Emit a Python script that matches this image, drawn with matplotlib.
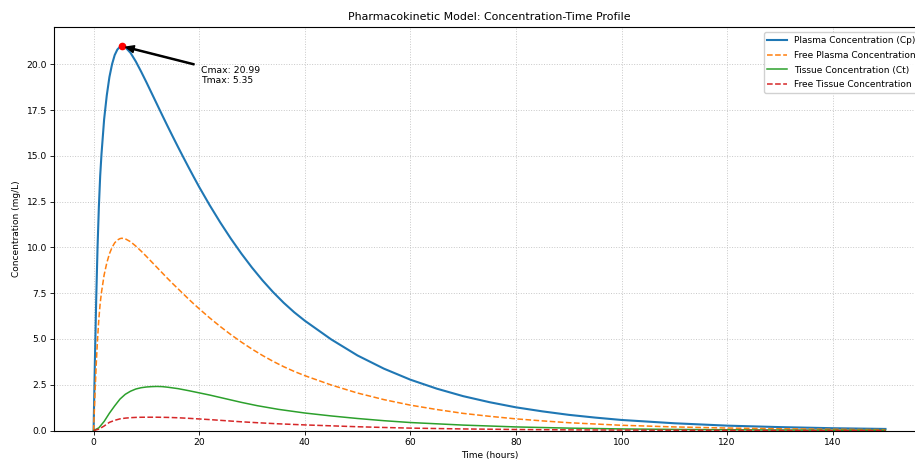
import numpy as np
import matplotlib
matplotlib.use("Agg")
import matplotlib.pyplot as plt

# Values (hours, mg/L)
time_p = [0, 0.25, 0.5, 0.75, 1, 1.25, 1.5, 2, 2.5, 3, 3.5, 4, 4.5, 5, 5.35, 6, 7, 8, 9, 10,
          11, 12, 13, 14, 15, 16, 17, 18, 19, 20, 22, 24, 26, 28, 30, 32, 34, 36, 38, 40,
          45, 50, 55, 60, 65, 70, 75, 80, 85, 90, 95, 100, 110, 120, 130, 140, 150]

plasma = [0, 3.8, 7.2, 10.0, 12.2, 13.9, 15.1, 17.0, 18.3, 19.3, 20.0, 20.5, 20.8, 20.95, 20.99,
          20.93, 20.62, 20.15, 19.6, 19.02, 18.42, 17.82, 17.22, 16.63, 16.05, 15.48, 14.92,
          14.37, 13.83, 13.3, 12.3, 11.36, 10.48, 9.66, 8.9, 8.2, 7.56, 6.98, 6.46, 6.0,
          4.98, 4.1, 3.38, 2.78, 2.29, 1.88, 1.55, 1.27, 1.05, 0.86, 0.71, 0.58,
          0.4, 0.27, 0.19, 0.13, 0.09]

free_plasma = [0, 1.9, 3.6, 5.0, 6.1, 6.95, 7.55, 8.5, 9.15, 9.65, 10.0, 10.25, 10.4, 10.48, 10.5,
               10.47, 10.31, 10.07, 9.8, 9.51, 9.21, 8.91, 8.61, 8.31, 8.02, 7.74, 7.46, 7.18,
               6.91, 6.65, 6.15, 5.68, 5.24, 4.83, 4.45, 4.1, 3.78, 3.49, 3.23, 3.0,
               2.49, 2.05, 1.69, 1.39, 1.15, 0.94, 0.78, 0.64, 0.53, 0.43, 0.36, 0.29,
               0.2, 0.14, 0.1, 0.07, 0.05]

time_t = [0, 1, 2, 3, 4, 5, 6, 7, 8, 9, 10, 11, 12, 13, 14, 16, 18, 20, 22, 25, 28, 31, 35,
          40, 45, 50, 55, 60, 70, 80, 90, 100, 110, 120, 130, 140, 150]

tissue = [0, 0.15, 0.5, 0.95, 1.35, 1.72, 1.98, 2.15, 2.27, 2.34, 2.38, 2.4, 2.41, 2.4, 2.37,
          2.29, 2.18, 2.06, 1.94, 1.74, 1.54, 1.36, 1.16, 0.96, 0.8, 0.66, 0.54, 0.44,
          0.3, 0.2, 0.135, 0.09, 0.065, 0.045, 0.03, 0.02, 0.015]

free_tissue = [0, 0.08, 0.25, 0.45, 0.56, 0.64, 0.68, 0.705, 0.72, 0.728, 0.73, 0.73, 0.73,
               0.725, 0.72, 0.7, 0.67, 0.635, 0.6, 0.54, 0.48, 0.43, 0.37, 0.31, 0.26, 0.21,
               0.17, 0.135, 0.09, 0.06, 0.04, 0.028, 0.02, 0.014, 0.01, 0.007, 0.005]

cmax = 20.99
tmax = 5.35

fig = plt.figure(figsize=(9.15, 4.63), dpi=100)
# reference is cropped on the right, so the axes run past the figure edge
ax = fig.add_axes([0.059, 0.07, 0.952, 0.872])

ax.plot(time_p, plasma, color="#1f77b4", lw=1.5, label="Plasma Concentration (Cp)")
ax.plot(time_p, free_plasma, color="#ff7f0e", lw=1.1, ls="--", label="Free Plasma Concentration")
ax.plot(time_t, tissue, color="#2ca02c", lw=1.1, label="Tissue Concentration (Ct)")
ax.plot(time_t, free_tissue, color="#d62728", lw=1.1, ls="--", label="Free Tissue Concentration")

# Cmax marker + annotation
ax.plot(tmax, cmax, "o", color="red", markersize=4.5)
ax.annotate(f"Cmax: {cmax:.2f}\nTmax: {tmax:.2f}", xy=(tmax, cmax), xytext=(20.3, 19.9),
            fontsize=6.7, va="top",
            arrowprops=dict(facecolor="black", edgecolor="black", shrink=0.05,
                            width=0.8, headwidth=5, headlength=6))

ax.set_xlim(-7.5, 157.5)
ax.set_ylim(0, 22.04)
ax.set_title("Pharmacokinetic Model: Concentration-Time Profile", fontsize=7.9, pad=5)
ax.set_xlabel("Time (hours)", fontsize=6.5, labelpad=3)
ax.set_ylabel("Concentration (mg/L)", fontsize=6.5, labelpad=4)
ax.tick_params(labelsize=6.6, length=3, width=0.6, pad=2)
for sp in ax.spines.values():
    sp.set_linewidth(0.8)

ax.grid(True, ls=":", color="#c8c8c8", lw=0.7)
ax.legend(loc="upper right", fontsize=6.5, framealpha=0.9, handlelength=2.2,
          labelspacing=0.65, borderaxespad=0.6)

fig.savefig("out.png", dpi=100)
